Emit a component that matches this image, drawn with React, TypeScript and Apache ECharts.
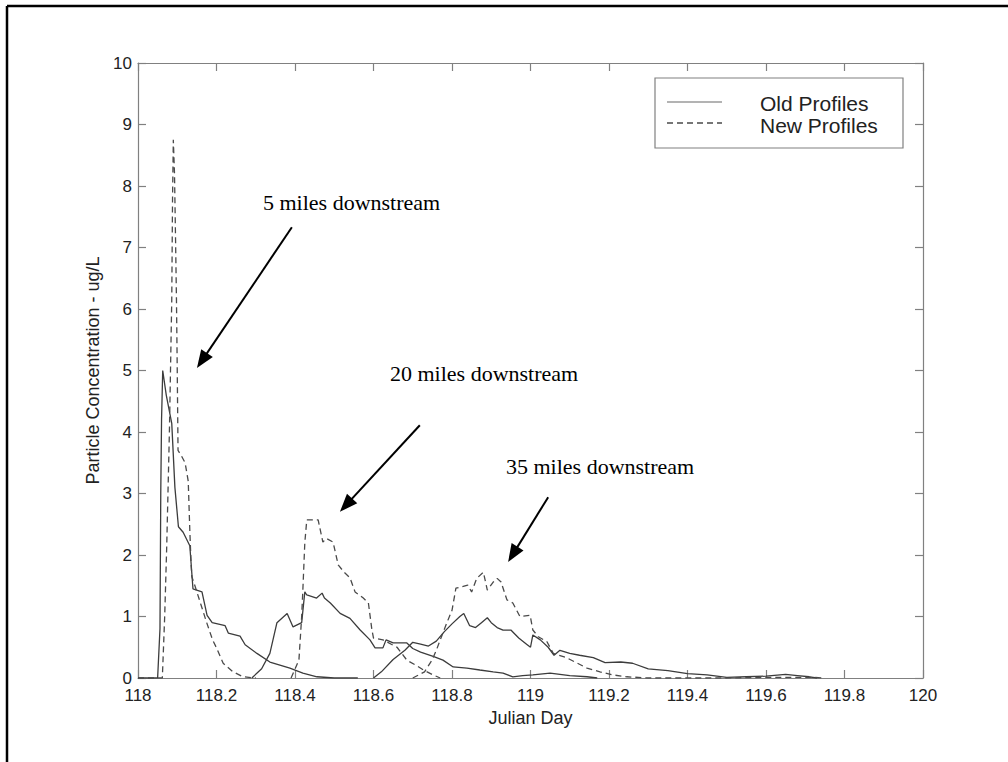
import React, { useEffect, useRef } from "react";
import * as echarts from "echarts";

// ---- data (Julian day, particle concentration ug/L) ----
const oldFive: [number, number][] = [
  [118.0, 0], [118.05, 0], [118.056, 0.8], [118.058, 3.0], [118.06, 4.2], [118.063, 5.0],
  [118.072, 4.6], [118.086, 4.14], [118.094, 3.1], [118.103, 2.46], [118.115, 2.37],
  [118.132, 2.15], [118.14, 1.45], [118.163, 1.4], [118.176, 1.02], [118.189, 0.9],
  [118.222, 0.85], [118.23, 0.73], [118.26, 0.68], [118.273, 0.54], [118.303, 0.4],
  [118.336, 0.26], [118.387, 0.16], [118.42, 0.08], [118.456, 0.02], [118.5, 0], [118.56, 0],
];
const newFive: [number, number][] = [
  [118.0, 0], [118.062, 0], [118.068, 1.0], [118.073, 2.1], [118.08, 4.0], [118.086, 6.15],
  [118.088, 7.8], [118.09, 8.75], [118.093, 8.2], [118.096, 7.0], [118.098, 6.15],
  [118.1, 5.0], [118.102, 3.7], [118.11, 3.62], [118.12, 3.5], [118.128, 3.2],
  [118.132, 2.4], [118.135, 1.9], [118.137, 1.65], [118.145, 1.5], [118.16, 1.2],
  [118.175, 0.9], [118.19, 0.62], [118.2, 0.49], [118.217, 0.24], [118.242, 0.1],
  [118.268, 0.02], [118.3, 0],
];
const oldTwenty: [number, number][] = [
  [118.29, 0], [118.315, 0.15], [118.336, 0.4], [118.354, 0.9], [118.38, 1.05],
  [118.395, 0.83], [118.417, 0.9], [118.425, 1.4], [118.43, 1.35], [118.455, 1.3],
  [118.469, 1.38], [118.475, 1.3], [118.49, 1.22], [118.515, 1.05], [118.54, 0.97],
  [118.566, 0.78], [118.591, 0.62], [118.604, 0.49], [118.624, 0.49], [118.632, 0.62],
  [118.65, 0.57], [118.685, 0.57], [118.7, 0.48], [118.72, 0.42], [118.752, 0.35],
  [118.777, 0.29], [118.803, 0.18], [118.838, 0.16], [118.871, 0.13], [118.905, 0.1],
  [118.93, 0.08], [118.955, 0.02], [118.98, 0.04], [119.006, 0.05], [119.05, 0.08],
  [119.1, 0.04], [119.144, 0.02], [119.17, 0],
];
const newTwenty: [number, number][] = [
  [118.39, 0], [118.41, 0.29], [118.417, 1.0], [118.42, 1.43], [118.425, 2.2],
  [118.43, 2.57], [118.459, 2.57], [118.471, 2.21], [118.48, 2.27], [118.497, 2.21],
  [118.51, 1.84], [118.525, 1.72], [118.54, 1.63], [118.553, 1.4], [118.574, 1.3],
  [118.587, 1.22], [118.596, 0.78], [118.6, 0.65], [118.624, 0.62], [118.66, 0.5],
  [118.685, 0.29], [118.71, 0.2], [118.727, 0.13], [118.752, 0.05], [118.77, 0],
];
const oldThirtyFive: [number, number][] = [
  [118.6, 0], [118.62, 0.1], [118.65, 0.3], [118.68, 0.45], [118.7, 0.58],
  [118.72, 0.55], [118.74, 0.52], [118.76, 0.6], [118.78, 0.75], [118.8, 0.88],
  [118.82, 1.0], [118.83, 1.05], [118.845, 0.85], [118.86, 0.82], [118.875, 0.9],
  [118.89, 0.98], [118.9, 0.9], [118.915, 0.82], [118.93, 0.78], [118.95, 0.78],
  [118.97, 0.65], [118.99, 0.55], [119.0, 0.5], [119.006, 0.7], [119.025, 0.62],
  [119.045, 0.5], [119.06, 0.37], [119.075, 0.45], [119.1, 0.4], [119.125, 0.37],
  [119.16, 0.33], [119.19, 0.25], [119.23, 0.26], [119.26, 0.24], [119.3, 0.15],
  [119.35, 0.12], [119.4, 0.07], [119.45, 0.05], [119.5, 0.01], [119.55, 0.02],
  [119.6, 0.03], [119.65, 0.06], [119.68, 0.04], [119.71, 0.02], [119.73, 0],
];
const newThirtyFive: [number, number][] = [
  [118.7, 0], [118.73, 0.1], [118.75, 0.3], [118.76, 0.45], [118.77, 0.62],
  [118.787, 0.9], [118.8, 1.1], [118.81, 1.46], [118.84, 1.51], [118.85, 1.4],
  [118.863, 1.62], [118.88, 1.72], [118.89, 1.43], [118.905, 1.56], [118.915, 1.62],
  [118.925, 1.56], [118.94, 1.27], [118.955, 1.22], [118.973, 1.0], [118.999, 1.02],
  [119.006, 0.78], [119.02, 0.67], [119.042, 0.59], [119.058, 0.4], [119.092, 0.33],
  [119.144, 0.16], [119.177, 0.1], [119.21, 0.05], [119.245, 0.02], [119.3, 0],
  [119.5, 0], [119.6, 0.01], [119.72, 0.01], [119.75, 0],
];

const legendNames = ["Old Profiles", "New Profiles"];
const annotationTexts = ["5 miles downstream", "20 miles downstream", "35 miles downstream"];
// arrow start / end in data coordinates
const arrowFrom: [number, number][] = [[118.392, 7.33], [118.718, 4.11], [119.045, 2.94]];
const arrowTo: [number, number][] = [[118.163, 5.16], [118.53, 2.81], [118.955, 2.01]];

const X_MIN = 118, X_MAX = 120, X_STEP = 0.2;
const Y_MIN = 0, Y_MAX = 10, Y_STEP = 1;

const SANS = "'Liberation Sans', Arial, Helvetica, sans-serif";
const SERIF = "'Liberation Serif', 'Times New Roman', serif";
const AXIS_COLOR = "#808080";
const OLD_COLOR = "#3c3c3c";
const NEW_COLOR = "#4a4a4a";

export default function App() {
  const ref = useRef<HTMLDivElement>(null);

  useEffect(() => {
    document.body.style.margin = "0";
    if (!ref.current) return;
    const chart = echarts.init(ref.current, null, { renderer: "svg" });

    const axisCommon = {
      axisLine: { show: true, onZero: false, lineStyle: { color: AXIS_COLOR, width: 1.2 } },
      axisTick: { show: true, inside: true, length: 8, lineStyle: { color: AXIS_COLOR, width: 1.2 } },
      splitLine: { show: false },
    };

    const oldLine = (data: [number, number][]) => ({
      type: "line", data, showSymbol: false, symbol: "none", clip: true,
      lineStyle: { color: OLD_COLOR, width: 1.3, type: "solid" },
      xAxisIndex: 0, yAxisIndex: 0,
    });
    const newLine = (data: [number, number][]) => ({
      type: "line", data, showSymbol: false, symbol: "none", clip: true,
      lineStyle: { color: NEW_COLOR, width: 1.3, type: [6, 4] },
      xAxisIndex: 0, yAxisIndex: 0,
    });

    const series: any[] = [
      oldLine(oldFive), newLine(newFive),
      oldLine(oldTwenty), newLine(newTwenty),
      oldLine(oldThirtyFive), newLine(newThirtyFive),
    ];
    series[0].markLine = {
      silent: true,
      symbol: ["none", "triangle"],
      symbolSize: [14, 18],
      label: { show: false },
      lineStyle: { color: "#000", width: 2, type: "solid" },
      itemStyle: { color: "#000" },
      data: arrowFrom.map((f, i) => [{ coord: f }, { coord: arrowTo[i] }]),
    };

    const textPos: [number, number][] = [[263, 213], [390, 384], [506, 477]];

    chart.setOption({
      animation: false,
      backgroundColor: "#fff",
      grid: { left: 138, right: 85, top: 63, bottom: 84, containLabel: false },
      xAxis: [
        {
          ...axisCommon, type: "value", min: X_MIN, max: X_MAX, interval: X_STEP,
          position: "bottom",
          name: "Julian Day", nameLocation: "middle", nameGap: 28,
          nameTextStyle: { fontFamily: SANS, fontSize: 18, color: "#222" },
          axisLabel: {
            fontFamily: SANS, fontSize: 17, color: "#222", margin: 9, lineHeight: 17,
            formatter: (v: number) => String(Math.round(v * 10) / 10),
          },
        },
        {
          ...axisCommon, type: "value", min: X_MIN, max: X_MAX, interval: X_STEP,
          position: "top", axisLabel: { show: false },
        },
      ],
      yAxis: [
        {
          ...axisCommon, type: "value", min: Y_MIN, max: Y_MAX, interval: Y_STEP,
          position: "left",
          name: "Particle Concentration - ug/L", nameLocation: "middle", nameGap: 27,
          nameTextStyle: { fontFamily: SANS, fontSize: 18, color: "#222" },
          axisLabel: { fontFamily: SANS, fontSize: 17, color: "#222", margin: 6, lineHeight: 13 },
        },
        {
          ...axisCommon, type: "value", min: Y_MIN, max: Y_MAX, interval: Y_STEP,
          position: "right", axisLabel: { show: false },
        },
      ],
      series,
      graphic: [
        // outer figure frame
        { type: "line", shape: { x1: 7, y1: 6, x2: 1008, y2: 6 }, style: { stroke: "#000", lineWidth: 2.5 }, silent: true },
        { type: "line", shape: { x1: 7, y1: 6, x2: 7, y2: 762 }, style: { stroke: "#000", lineWidth: 2.5 }, silent: true },
        // legend box
        { type: "rect", shape: { x: 655, y: 78, width: 248, height: 70 }, style: { fill: "#fff", stroke: AXIS_COLOR, lineWidth: 1.2 }, z: 10 },
        { type: "line", shape: { x1: 667, y1: 102, x2: 722, y2: 102 }, style: { stroke: "#9a9a9a", lineWidth: 1.3 }, z: 11 },
        { type: "line", shape: { x1: 667, y1: 123, x2: 722, y2: 123 }, style: { stroke: NEW_COLOR, lineWidth: 1.3, lineDash: [6, 4] }, z: 11 },
        { type: "text", x: 760, y: 103, style: { text: legendNames[0], font: `21px ${SANS}`, lineHeight: 19, fill: "#222", textVerticalAlign: "middle" }, z: 11 },
        { type: "text", x: 760, y: 125, style: { text: legendNames[1], font: `21px ${SANS}`, lineHeight: 19, fill: "#222", textVerticalAlign: "middle" }, z: 11 },
        // annotation labels
        ...annotationTexts.map((t, i) => ({
          type: "text", x: textPos[i][0], y: textPos[i][1],
          style: { text: t, font: `22px ${SERIF}`, fill: "#000", textVerticalAlign: "bottom" },
          z: 11,
        })),
      ],
    });

    return () => chart.dispose();
  }, []);

  return (
    <div
      ref={ref}
      style={{ position: "fixed", left: 0, top: 0, width: 1008, height: 762, background: "#fff" }}
    />
  );
}
